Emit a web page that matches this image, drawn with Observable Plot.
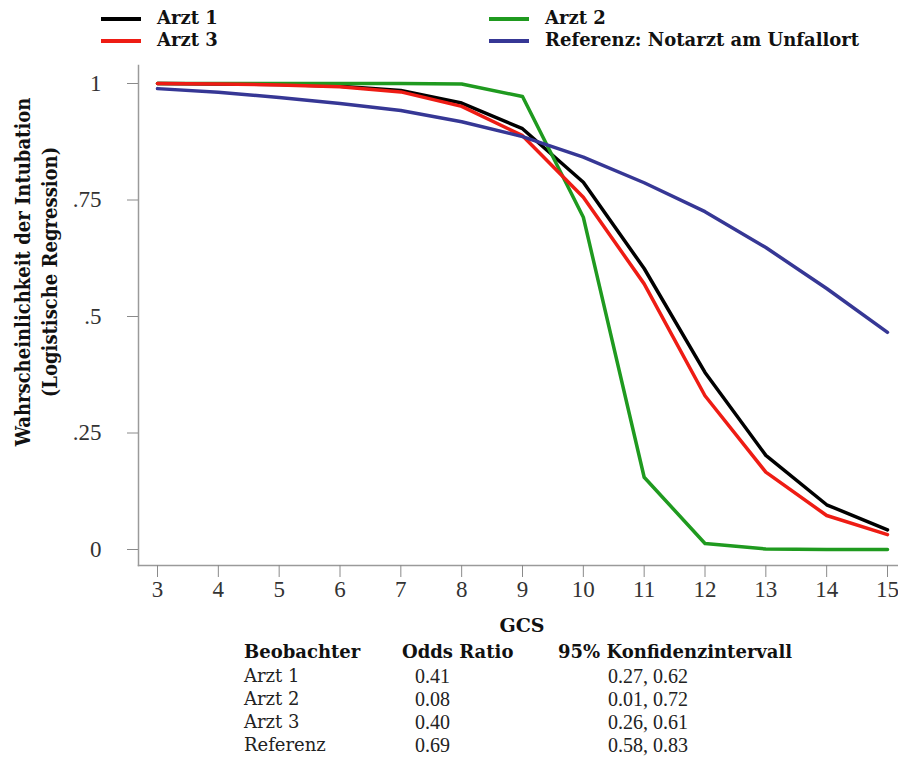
<!DOCTYPE html>
<html><head><meta charset="utf-8">
<script src="https://cdn.jsdelivr.net/npm/d3@7"></script>
<script src="https://cdn.jsdelivr.net/npm/@observablehq/plot@0.6"></script>
<style>
body{margin:0;background:#fff;}
#wrap{position:relative;width:898px;height:766px;overflow:hidden;background:#fff;}
#chart{position:absolute;left:0;top:0;}
.abs{position:absolute;white-space:nowrap;}
.lg{font-family:"DejaVu Serif",serif;font-weight:bold;font-size:18px;color:#111;line-height:20px;}
.sw{position:absolute;height:4px;width:40px;}
.yt{font-family:"DejaVu Serif",serif;font-weight:bold;font-size:18px;color:#111;transform-origin:0 0;transform:rotate(-90deg) scaleY(1.12);text-align:center;width:400px;line-height:20px;}
.gcs{font-family:"DejaVu Serif",serif;font-weight:bold;font-size:19px;color:#111;}
.th{font-family:"DejaVu Serif",serif;font-weight:bold;font-size:18px;color:#111;line-height:20px;}
.tw{font-family:"DejaVu Serif",serif;font-size:18px;color:#222;line-height:20px;}
.tn{font-family:"Liberation Serif",serif;font-size:20px;color:#222;line-height:20px;}
</style>
</head><body>
<div id="wrap"></div>
<script>
const gcs = [3, 4, 5, 6, 7, 8, 9, 10, 11, 12, 13, 14, 15];
const arzt1 = [1.000, 0.999, 0.998, 0.994, 0.985, 0.958, 0.903, 0.788, 0.603, 0.380, 0.202, 0.096, 0.042];
const arzt2 = [1.000, 1.000, 1.000, 1.000, 1.000, 0.999, 0.972, 0.713, 0.155, 0.013, 0.001, 0.000, 0.000];
const arzt3 = [1.000, 0.999, 0.997, 0.993, 0.982, 0.951, 0.888, 0.756, 0.570, 0.330, 0.166, 0.073, 0.032];
const referenz = [0.989, 0.981, 0.970, 0.957, 0.942, 0.918, 0.886, 0.842, 0.787, 0.725, 0.648, 0.560, 0.466];

const seriesNames = ["Arzt 1", "Arzt 2", "Arzt 3", "Referenz: Notarzt am Unfallort"];
const seriesValues = [arzt1, arzt2, arzt3, referenz];
const seriesColors = ["#000000", "#1f9a1f", "#ee1c14", "#363795"];

const yTicks = [0, 0.25, 0.5, 0.75, 1];
const yTickLabels = ["0", ".25", ".5", ".75", "1"];

const tableHeader = ["Beobachter", "Odds Ratio", "95% Konfidenzintervall"];
const observers = ["Arzt 1", "Arzt 2", "Arzt 3", "Referenz"];
const oddsRatios = ["0.41", "0.08", "0.40", "0.69"];
const confInts = ["0.27, 0.62", "0.01, 0.72", "0.26, 0.61", "0.58, 0.83"];

const rows = seriesNames.flatMap((name, i) => gcs.map((g, j) => ({series: name, gcs: g, p: seriesValues[i][j]})));

const chart = Plot.plot({
  width: 898,
  height: 766,
  marginLeft: 138,
  marginRight: 0,
  marginTop: 65,
  marginBottom: 201,
  style: {background: "transparent", overflow: "visible"},
  x: {domain: [3, 15], insetLeft: 19, insetRight: 11},
  y: {domain: [0, 1], insetTop: 18, insetBottom: 16},
  color: {domain: seriesNames, range: seriesColors},
  marks: [
    Plot.frame({anchor: "left", stroke: "#9a9a9a", strokeWidth: 1.5}),
    Plot.frame({anchor: "bottom", stroke: "#9a9a9a", strokeWidth: 1.5}),
    Plot.axisY({ticks: yTicks, tickFormat: (d) => yTickLabels[yTicks.indexOf(d)], tickSize: 11, tickPadding: 26,
      stroke: "#8a8a8a", fill: "#333", fontSize: 23, fontFamily: "Liberation Serif", label: null}),
    Plot.axisX({ticks: gcs, tickFormat: (d) => String(d), tickSize: 12, tickPadding: 3,
      stroke: "#8a8a8a", fill: "#333", fontSize: 23, fontFamily: "Liberation Serif", label: null}),
    Plot.lineY(rows, {x: "gcs", y: "p", stroke: "series", z: "series", strokeWidth: 3.5, strokeLinejoin: "round"})
  ]
});
chart.id = "chart";
const wrap = document.getElementById("wrap");
wrap.appendChild(chart);

function add(cls, text, left, top, extra) {
  const d = document.createElement("div");
  d.className = "abs " + cls;
  d.textContent = text;
  d.style.left = left + "px";
  d.style.top = top + "px";
  if (extra) Object.assign(d.style, extra);
  wrap.appendChild(d);
  return d;
}
// legend (2 columns)
const legendPos = [[101, 8], [489, 8], [101, 30], [489, 30]];
seriesNames.forEach((name, k) => {
  const [lx, ly] = legendPos[k];
  const sw = document.createElement("div");
  sw.className = "sw";
  sw.style.left = lx + "px";
  sw.style.top = (ly + 9) + "px";
  sw.style.background = seriesColors[k];
  wrap.appendChild(sw);
  add("lg", name, lx + 56, ly);
});
// y title
add("yt", "Wahrscheinlichkeit der Intubation", 12, 472);
add("yt", "(Logistische Regression)", 39, 472);
// x title
add("gcs", "GCS", 0, 614, {width: (157 + 887) + "px", textAlign: "center"});
// table
add("th", tableHeader[0], 244, 642);
add("th", tableHeader[1], 402, 642);
add("th", tableHeader[2], 558, 642);
observers.forEach((o, i) => {
  const top = 666 + i * 23;
  add("tw", o, 244, top);
  add("tn", oddsRatios[i], 415, top);
  add("tn", confInts[i], 608, top);
});
</script>
</body></html>
